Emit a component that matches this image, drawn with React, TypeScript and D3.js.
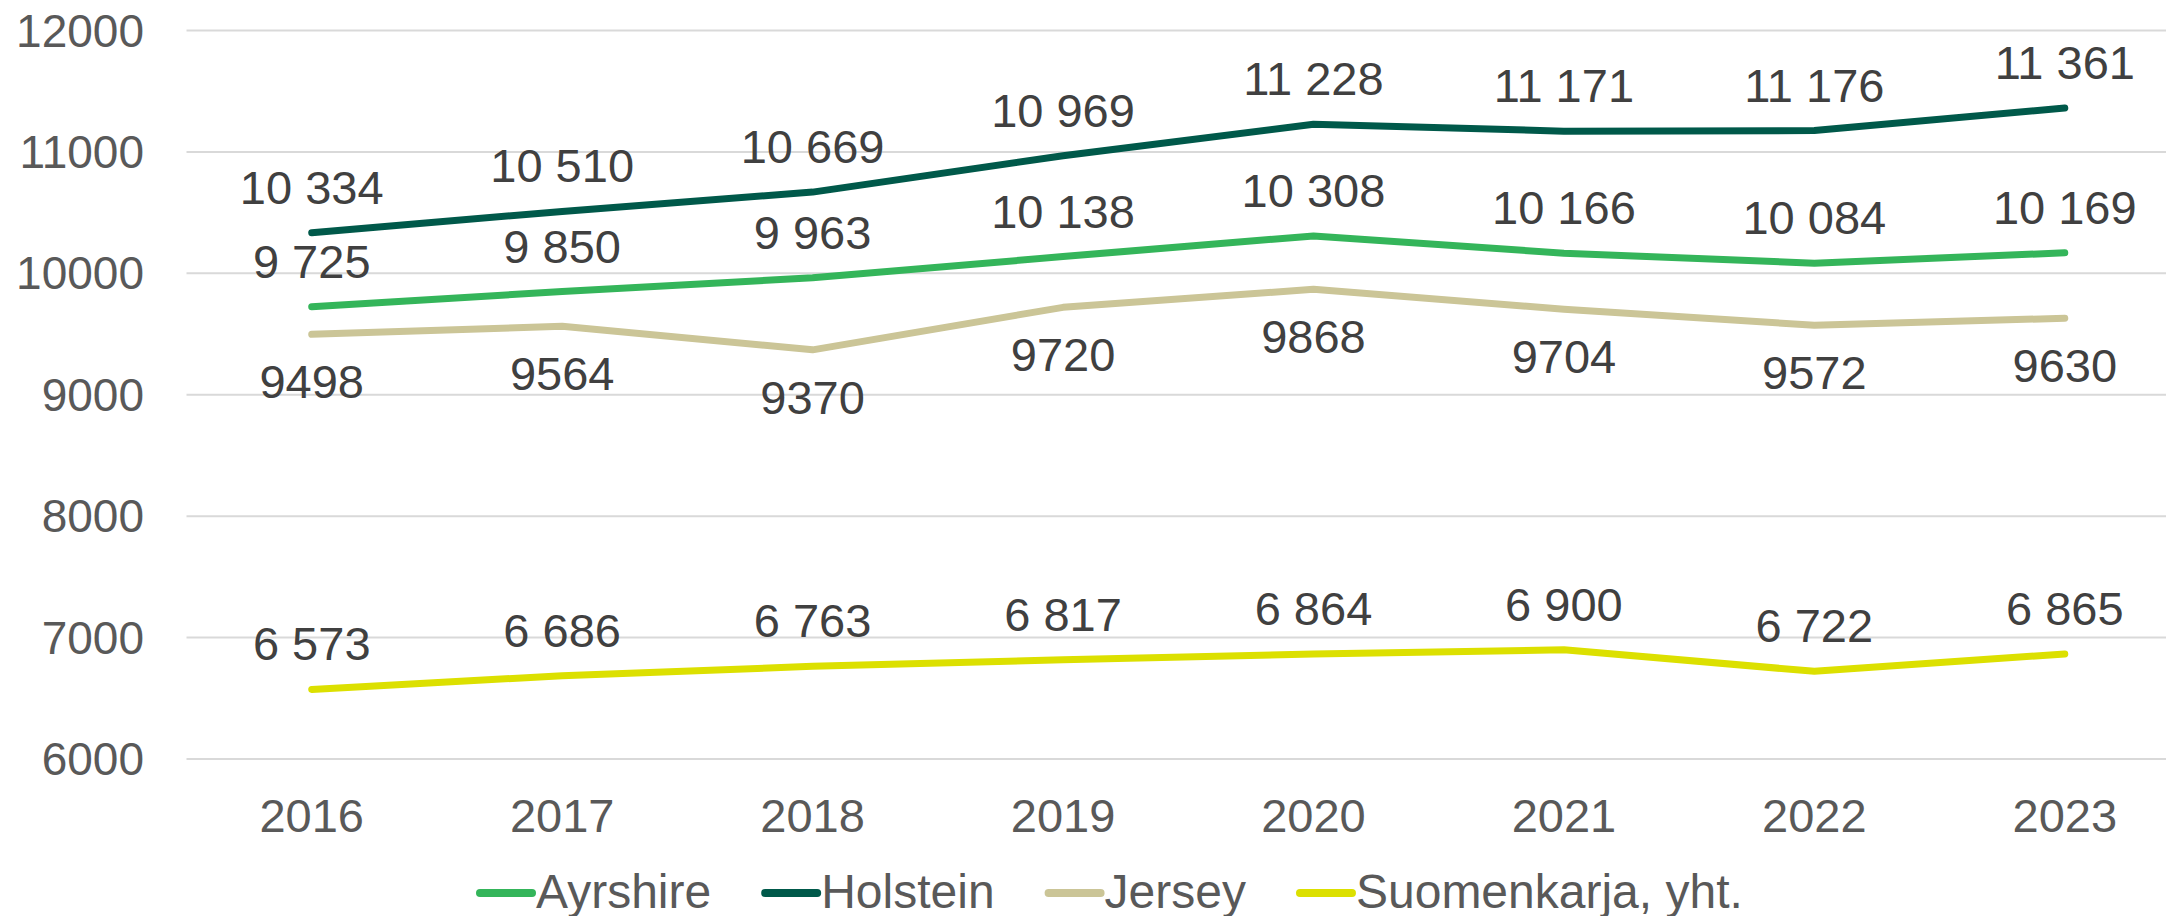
import React, { useEffect, useRef } from "react";
import * as d3 from "d3";

const years = ["2016", "2017", "2018", "2019", "2020", "2021", "2022", "2023"];
const ayrshire = [9725, 9850, 9963, 10138, 10308, 10166, 10084, 10169];
const holstein = [10334, 10510, 10669, 10969, 11228, 11171, 11176, 11361];
const jersey = [9498, 9564, 9370, 9720, 9868, 9704, 9572, 9630];
const suomenkarja = [6573, 6686, 6763, 6817, 6864, 6900, 6722, 6865];
const yTicks = [6000, 7000, 8000, 9000, 10000, 11000, 12000];

const series = [
  { name: "Ayrshire", values: ayrshire, color: "#34b55a", spaced: true, below: false },
  { name: "Holstein", values: holstein, color: "#00594a", spaced: true, below: false },
  { name: "Jersey", values: jersey, color: "#cbc597", spaced: false, below: true },
  { name: "Suomenkarja, yht.", values: suomenkarja, color: "#dce000", spaced: true, below: false },
];

const W = 2166;
const H = 916;

const App = () => {
  const svgRef = useRef<SVGSVGElement>(null);

  useEffect(() => {
    const svg = d3.select(svgRef.current);
    svg.selectAll("*").remove();

    const font = "'Liberation Sans', Arial, sans-serif";
    const margin = { left: 186.5, right: -24, top: 30.5, bottom: 157 };

    const x = d3
      .scalePoint()
      .domain(years)
      .range([margin.left, W - margin.right])
      .padding(0.5);

    const y = d3
      .scaleLinear()
      .domain([6000, 12000])
      .range([H - margin.bottom, margin.top]);

    // gridlines
    svg
      .append("g")
      .selectAll("line")
      .data(yTicks)
      .join("line")
      .attr("x1", margin.left)
      .attr("x2", W - margin.right)
      .attr("y1", (d) => y(d))
      .attr("y2", (d) => y(d))
      .attr("stroke", "#d9d9d9")
      .attr("stroke-width", 2);

    // y labels
    svg
      .append("g")
      .selectAll("text")
      .data(yTicks)
      .join("text")
      .attr("x", 144)
      .attr("y", (d) => y(d) + 16)
      .attr("text-anchor", "end")
      .attr("font-family", font)
      .attr("font-size", 46)
      .attr("fill", "#595959")
      .text((d) => String(d));

    // x labels
    svg
      .append("g")
      .selectAll("text")
      .data(years)
      .join("text")
      .attr("x", (d) => x(d)!)
      .attr("y", 832)
      .attr("text-anchor", "middle")
      .attr("font-family", font)
      .attr("font-size", 47)
      .attr("fill", "#595959")
      .text((d) => d);

    const line = d3
      .line<number>()
      .x((d, i) => x(years[i])!)
      .y((d) => y(d));

    const fmtSpace = (v: number) => d3.format(",")(v).replace(/,/g, " ");

    series.forEach((s) => {
      svg
        .append("path")
        .datum(s.values)
        .attr("fill", "none")
        .attr("stroke", s.color)
        .attr("stroke-width", 7)
        .attr("stroke-linecap", "round")
        .attr("stroke-linejoin", "round")
        .attr("d", line);
    });

    // data labels
    series.forEach((s) => {
      svg
        .append("g")
        .selectAll("text")
        .data(s.values)
        .join("text")
        .attr("x", (d, i) => x(years[i])!)
        .attr("y", (d) => (s.below ? y(d) + 64 : y(d) - 29))
        .attr("text-anchor", "middle")
        .attr("font-family", font)
        .attr("font-size", 47)
        .attr("fill", "#404040")
        .text((d) => (s.spaced ? fmtSpace(d) : String(d)));
    });

    // legend
    const legend = svg.append("g").attr("transform", "translate(476,0)");
    let cx = 0;
    series.forEach((s) => {
      legend
        .append("line")
        .attr("x1", cx + 4)
        .attr("x2", cx + 56)
        .attr("y1", 893)
        .attr("y2", 893)
        .attr("stroke", s.color)
        .attr("stroke-width", 8)
        .attr("stroke-linecap", "round");
      const t = legend
        .append("text")
        .attr("x", cx + 60)
        .attr("y", 908)
        .attr("font-family", font)
        .attr("font-size", 48)
        .attr("fill", "#595959")
        .text(s.name);
      const w = (t.node() as SVGTextElement).getComputedTextLength();
      cx += 60 + w + 50;
    });
  }, []);

  return (
    <svg
      ref={svgRef}
      width={W}
      height={H}
      style={{ position: "absolute", left: 0, top: 0, background: "#fff" }}
    ></svg>
  );
};

export default App;
